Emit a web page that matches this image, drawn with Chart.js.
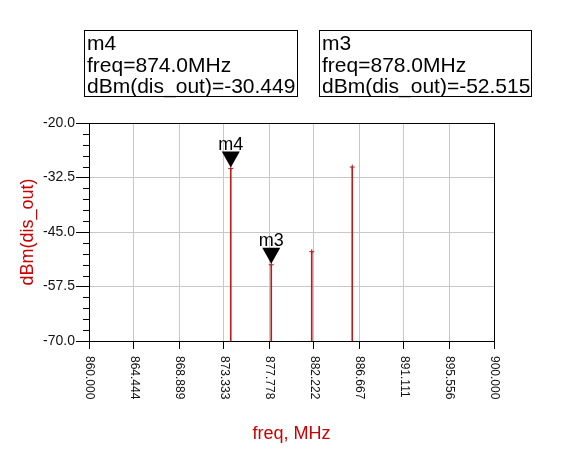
<!DOCTYPE html>
<html>
<head>
<meta charset="utf-8">
<style>
  html, body { margin: 0; padding: 0; background: #fff; }
  #wrap { position: relative; width: 566px; height: 460px; overflow: hidden; }
  #chart { position: absolute; left: 0; top: 0; }
  .mbox {
    position: absolute; top: 30px; height: 67px; box-sizing: border-box;
    border: 1px solid #000; background: #fff; color: #000;
    font-family: "Liberation Sans", Arial, sans-serif; font-size: 21px; line-height: 21.5px;
    padding: 1px 0 0 2px; white-space: nowrap;
  }
</style>
</head>
<body>
<div id="wrap">
  <canvas id="chart" width="566" height="460"></canvas>
  <div class="mbox" id="box0" style="left:84px; width:214px;"></div>
  <div class="mbox" id="box1" style="left:319px; width:213px;"></div>
</div>

<script src="https://cdn.jsdelivr.net/npm/chart.js"></script>
<script>
// spectral lines (MHz / dBm)
const freqs = [874, 878, 882, 886];
const levels = [-30.449, -52.515, -49.5, -30.1];

// markers shown in the readout boxes
const markerNames = ['m4', 'm3'];
const markerFreqs = [874, 878];

const xTickLabels = ['860.000', '864.444', '868.889', '873.333', '877.778',
                     '882.222', '886.667', '891.111', '895.556', '900.000'];
const yTickLabels = ['-70.0', '-57.5', '-45.0', '-32.5', '-20.0'];

const RED = '#b41e1e';
const FONT = '"Liberation Sans", Arial, sans-serif';

// readout boxes
markerNames.forEach((name, i) => {
  const k = freqs.indexOf(markerFreqs[i]);
  document.getElementById('box' + i).innerHTML =
    name + '<br>freq=' + markerFreqs[i].toFixed(1) + 'MHz<br>dBm(dis_out)=' + levels[k].toFixed(3);
});

// extra drawing: minor ticks, plot frame, rotated x labels, marker triangles
const decor = {
  id: 'decor',
  afterDraw(chart) {
    const ctx = chart.ctx;
    const a = chart.chartArea;
    const x = chart.scales.x, y = chart.scales.y;
    ctx.save();

    // minor ticks on y
    ctx.strokeStyle = '#000';
    ctx.lineWidth = 1;
    for (let v = -70; v <= -20; v += 2.5) {
      if (yTickLabels.includes(v.toFixed(1))) continue;
      const py = Math.round(y.getPixelForValue(v)) + 0.5;
      ctx.beginPath();
      ctx.moveTo(a.left - 6, py);
      ctx.lineTo(a.left, py);
      ctx.stroke();
    }

    // frame
    ctx.strokeRect(Math.round(a.left) + 0.5, Math.round(a.top) + 0.5,
                   Math.round(a.right - a.left), Math.round(a.bottom - a.top));

    // x labels, turned clockwise
    ctx.fillStyle = '#111';
    ctx.font = '12px ' + FONT;
    ctx.textAlign = 'left';
    ctx.textBaseline = 'middle';
    xTickLabels.forEach(lbl => {
      const px = x.getPixelForValue(parseFloat(lbl));
      ctx.save();
      ctx.translate(px, a.bottom + 15);
      ctx.rotate(Math.PI / 2);
      ctx.fillText(lbl, 0, 0);
      ctx.restore();
    });

    // marker triangles
    markerNames.forEach((name, i) => {
      const k = freqs.indexOf(markerFreqs[i]);
      const px = x.getPixelForValue(freqs[k]);
      const py = y.getPixelForValue(levels[k]);
      ctx.fillStyle = '#000';
      ctx.beginPath();
      ctx.moveTo(px - 9, py - 17);
      ctx.lineTo(px + 9, py - 17);
      ctx.lineTo(px, py - 1);
      ctx.closePath();
      ctx.fill();
      ctx.font = '18px ' + FONT;
      ctx.textAlign = 'center';
      ctx.textBaseline = 'alphabetic';
      ctx.fillText(name, px, py - 19);
    });

    ctx.restore();
  }
};

new Chart(document.getElementById('chart'), {
  type: 'bar',
  data: {
    datasets: [
      {
        data: freqs.map((f, i) => ({ x: f, y: [-70, levels[i]] })),
        backgroundColor: RED,
        barThickness: 1
      },
      {
        type: 'scatter',
        data: freqs.map((f, i) => ({ x: f, y: levels[i] })),
        pointStyle: 'cross',
        pointRadius: 2.5,
        borderColor: RED,
        borderWidth: 1
      }
    ]
  },
  options: {
    responsive: false,
    animation: false,
    layout: { padding: { left: 0, top: 123, right: 72, bottom: 11 } },
    plugins: { legend: { display: false }, tooltip: { enabled: false } },
    scales: {
      x: {
        type: 'linear',
        min: 860, max: 900,
        offset: false,
        afterBuildTicks: s => { s.ticks = xTickLabels.map(t => ({ value: parseFloat(t) })); },
        afterFit: s => { s.height = 108; },
        grid: { color: '#c8c8c8', tickColor: '#000', tickLength: 8, offset: false },
        border: { color: '#000' },
        ticks: { color: 'rgba(0,0,0,0)', minRotation: 90, maxRotation: 90, font: { size: 12 } },
        title: {
          display: true, text: 'freq, MHz', color: '#cc0000',
          font: { family: FONT, size: 18 }, padding: { top: 4, bottom: 4 }
        }
      },
      y: {
        min: -70, max: -20,
        afterBuildTicks: s => { s.ticks = yTickLabels.map(t => ({ value: parseFloat(t) })); },
        afterFit: s => { s.width = 89; },
        grid: { color: '#c8c8c8', tickColor: '#000', tickLength: 13 },
        border: { color: '#000' },
        ticks: {
          color: '#111', padding: 1, font: { family: FONT, size: 14 },
          callback: v => yTickLabels.find(t => parseFloat(t) === v)
        },
        title: {
          display: true, text: 'dBm(dis_out)', color: '#cc0000',
          font: { family: FONT, size: 18 }, padding: { top: 17, bottom: 4 }
        }
      }
    }
  },
  plugins: [decor]
});
</script>
</body>
</html>
